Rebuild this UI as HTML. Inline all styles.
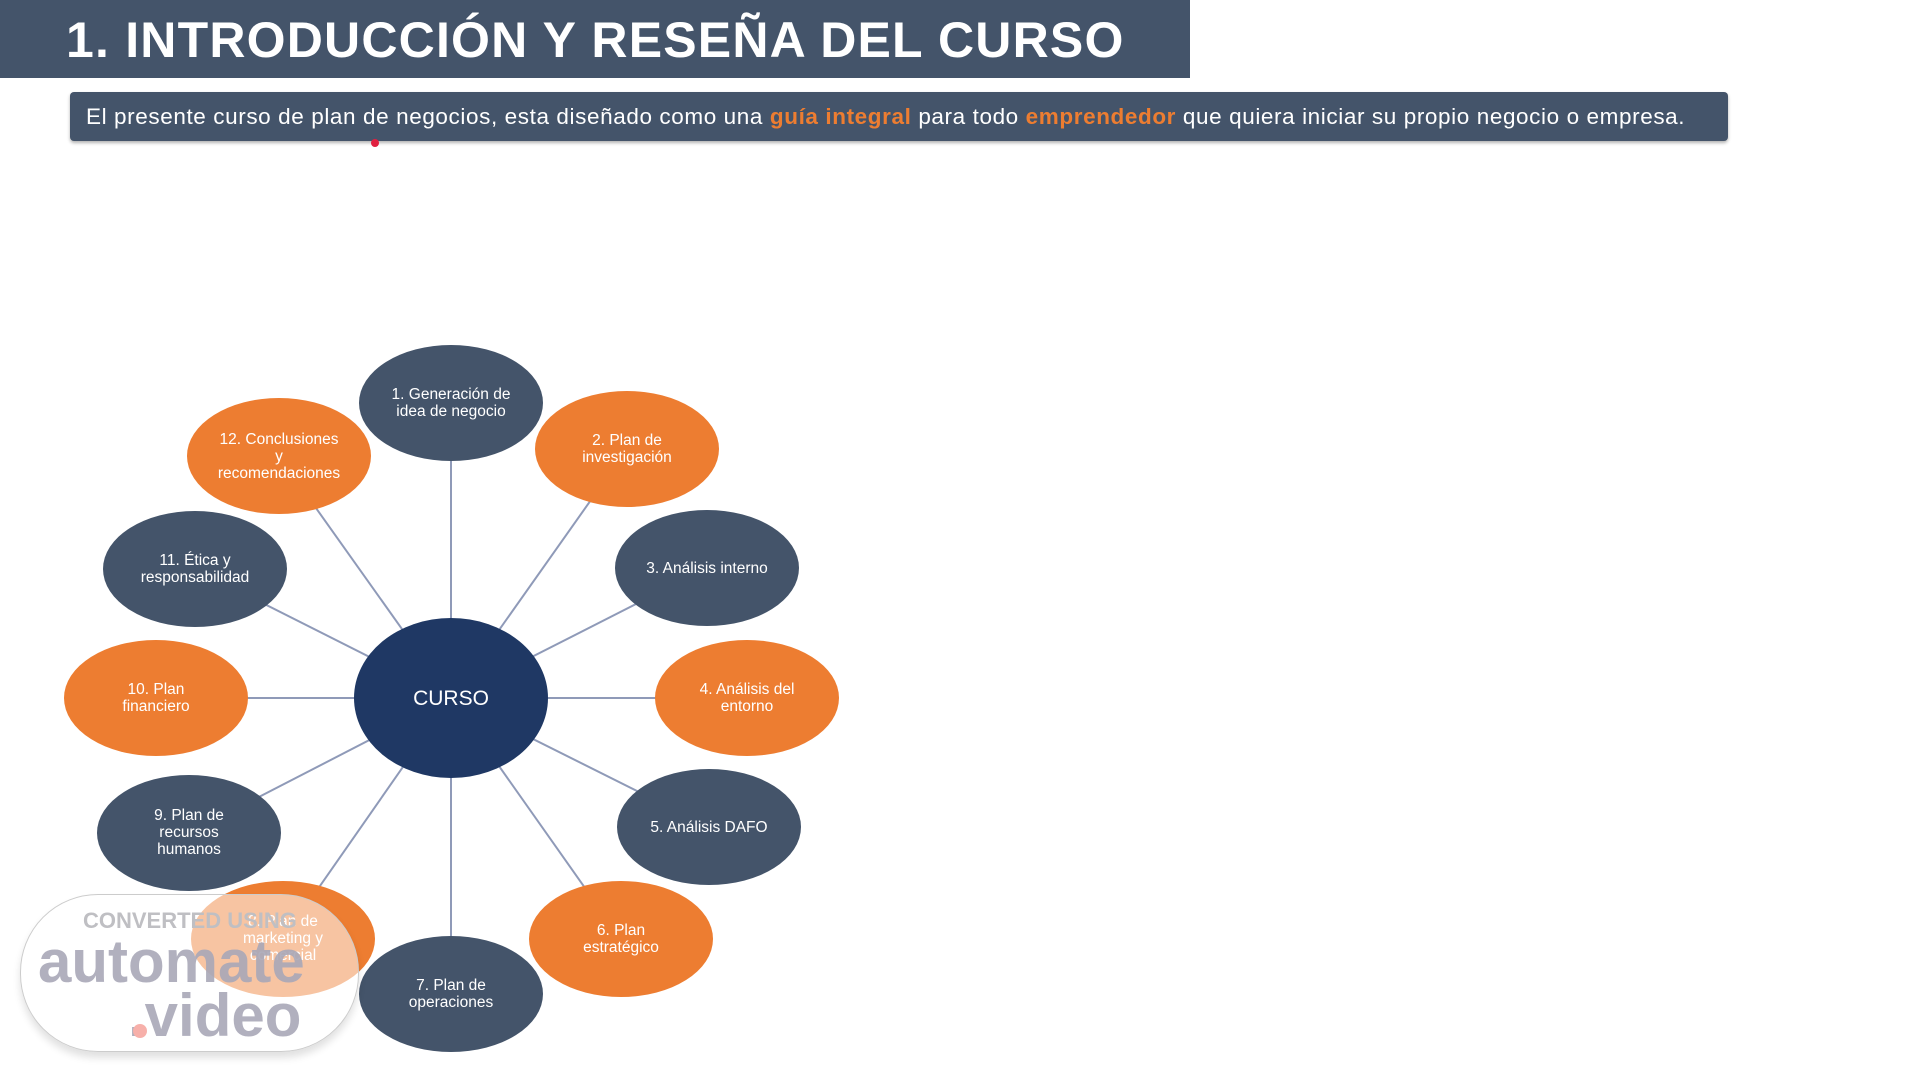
<!DOCTYPE html>
<html><head><meta charset="utf-8"><style>
body{margin:0;width:1920px;height:1080px;background:#fff;position:relative;overflow:hidden;font-family:"Liberation Sans",sans-serif}
.title{position:absolute;left:0;top:0;width:1190px;height:78px;background:#44546a;color:#fff;font-weight:bold;font-size:50px;line-height:80px;padding-left:66px;box-sizing:border-box;letter-spacing:1.2px}
.sub{position:absolute;left:70px;top:92px;width:1658px;height:49px;background:#44546a;border-radius:4px;color:#fff;font-size:22.5px;line-height:49px;padding-left:16px;box-sizing:border-box;box-shadow:0 2px 3px rgba(0,0,0,.3);white-space:nowrap;letter-spacing:0.6px}
.sub b{color:#ed7d31}
.wm{position:absolute;left:20px;top:894px;width:337px;height:156px;border-radius:78px;background:rgba(255,255,255,.55);border:1px solid #ccc;box-shadow:0 6px 8px rgba(0,0,0,.12)}
</style></head><body>
<div class="title">1. INTRODUCCIÓN Y RESEÑA DEL CURSO</div>
<div class="sub">El presente curso de plan de negocios, esta diseñado como una <b>guía integral</b> para todo <b>emprendedor</b> que quiera iniciar su propio negocio o empresa.</div>
<svg width="1920" height="1080" style="position:absolute;left:0;top:0" font-family="Liberation Sans, sans-serif">
<g stroke="#8f9ab8" stroke-width="2">
<line x1="451" y1="698" x2="451" y2="403"/><line x1="451" y1="698" x2="627" y2="449"/>
<line x1="451" y1="698" x2="707" y2="568"/><line x1="451" y1="698" x2="747" y2="698"/>
<line x1="451" y1="698" x2="709" y2="827"/><line x1="451" y1="698" x2="621" y2="939"/>
<line x1="451" y1="698" x2="451" y2="994"/><line x1="451" y1="698" x2="283" y2="939"/>
<line x1="451" y1="698" x2="189" y2="833"/><line x1="451" y1="698" x2="156" y2="698"/>
<line x1="451" y1="698" x2="195" y2="569"/><line x1="451" y1="698" x2="279" y2="456"/>
</g>
<g font-size="15.5" fill="#fff" text-anchor="middle">
<ellipse cx="451" cy="403" rx="92" ry="58" fill="#44546a"/><text x="451" y="399">1. Generación de</text><text x="451" y="416">idea de negocio</text>
<ellipse cx="627" cy="449" rx="92" ry="58" fill="#ed7d31"/><text x="627" y="445">2. Plan de</text><text x="627" y="462">investigación</text>
<ellipse cx="707" cy="568" rx="92" ry="58" fill="#44546a"/><text x="707" y="573">3. Análisis interno</text>
<ellipse cx="747" cy="698" rx="92" ry="58" fill="#ed7d31"/><text x="747" y="694">4. Análisis del</text><text x="747" y="711">entorno</text>
<ellipse cx="709" cy="827" rx="92" ry="58" fill="#44546a"/><text x="709" y="832">5. Análisis DAFO</text>
<ellipse cx="621" cy="939" rx="92" ry="58" fill="#ed7d31"/><text x="621" y="935">6. Plan</text><text x="621" y="952">estratégico</text>
<ellipse cx="451" cy="994" rx="92" ry="58" fill="#44546a"/><text x="451" y="990">7. Plan de</text><text x="451" y="1007">operaciones</text>
<ellipse cx="283" cy="939" rx="92" ry="58" fill="#ed7d31"/><text x="283" y="926">8. Plan de</text><text x="283" y="943">marketing y</text><text x="283" y="960">comercial</text>
<ellipse cx="189" cy="833" rx="92" ry="58" fill="#44546a"/><text x="189" y="820">9. Plan de</text><text x="189" y="837">recursos</text><text x="189" y="854">humanos</text>
<ellipse cx="156" cy="698" rx="92" ry="58" fill="#ed7d31"/><text x="156" y="694">10. Plan</text><text x="156" y="711">financiero</text>
<ellipse cx="195" cy="569" rx="92" ry="58" fill="#44546a"/><text x="195" y="565">11. Ética y</text><text x="195" y="582">responsabilidad</text>
<ellipse cx="279" cy="456" rx="92" ry="58" fill="#ed7d31"/><text x="279" y="444">12. Conclusiones</text><text x="279" y="461">y</text><text x="279" y="478">recomendaciones</text>
<ellipse cx="451" cy="698" rx="97" ry="80" fill="#1f3864"/><text x="451" y="705" font-size="21">CURSO</text>
</g>
<circle cx="375" cy="143" r="4" fill="#e02040"/>
</svg>
<div class="wm"></div>
<svg width="1920" height="1080" style="position:absolute;left:0;top:0" font-family="Liberation Sans, sans-serif" font-weight="bold">
<text x="83" y="928" font-size="22" fill="#bfbfc3">CONVERTED USING</text>
<text x="38" y="982" font-size="60" fill="#a9a8b8" opacity=".9">automate</text>
<text x="128" y="1036" font-size="60" fill="#a9a8b8" opacity=".9">.video</text>
<circle cx="140" cy="1031" r="7" fill="#f7b0aa"/>
</svg>
</body></html>
